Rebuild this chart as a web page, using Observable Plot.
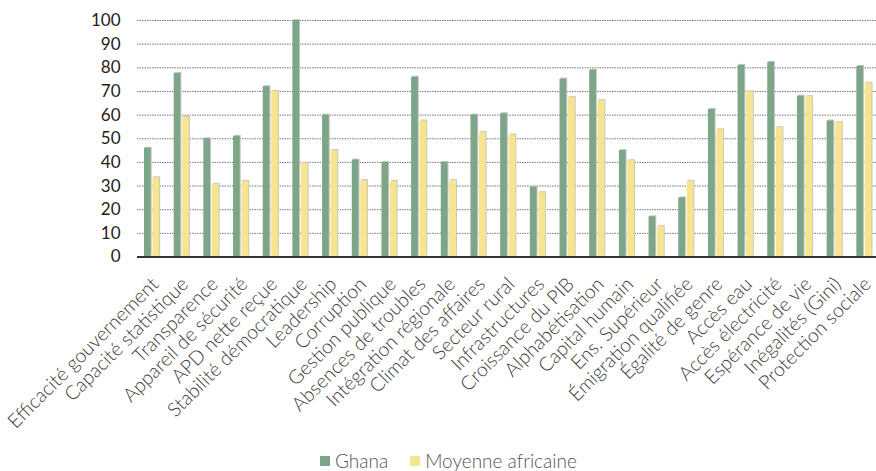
<!DOCTYPE html>
<html><head><meta charset="utf-8">
<script src="https://cdn.jsdelivr.net/npm/d3@7"></script>
<script src="https://cdn.jsdelivr.net/npm/@observablehq/plot@0.6"></script>
<style>
body{margin:0;background:#fff;font-family:Lato,sans-serif;width:876px;height:471px;overflow:hidden;position:relative}
#legend{position:absolute;left:320px;top:449px;display:flex;align-items:center;font-size:19px;font-weight:300;color:#555;font-family:Lato,sans-serif}
#legend .sw{width:10px;height:10px;display:inline-block;margin-right:5px}
#legend .it{display:flex;align-items:center;margin-right:22px}
</style>
</head><body>
<div id="chart"></div>
<div id="legend"></div>
<script>
const categories = ["Efficacité gouvernement","Capacité statistique","Transparence","Appareil de sécurité","APD nette reçue","Stabilité démocratique","Leadership","Corruption","Gestion publique","Absences de troubles","Intégration régionale","Climat des affaires","Secteur rural","Infrastructures","Croissance du PIB","Alphabétisation","Capital humain","Ens. Supérieur","Émigration qualifiée","Égalité de genre","Accès eau","Accès électricité","Espérance de vie","Inégalités (Gini)","Protection sociale"];
const ghana = [46,77.6,50,51,72,100,60,41,40,76,40,60,60.6,29.5,75.2,79,45,17,25,62.4,81,82.3,68,57.5,80.6];
const africa = [33.5,59,30.7,32,70,39.6,45,32.3,32,57.5,32.3,52.6,51.6,27.2,67.5,66.1,40.7,12.8,32,53.8,69.8,54.7,67.8,56.8,73.5];
const seriesNames = ["Ghana","Moyenne africaine"];
const colors = ["#7DA688","#F6E48E"];
const yTicks = [0,10,20,30,40,50,60,70,80,90,100];

const rows = categories.map((c,i)=>({c, g: ghana[i], a: africa[i]}));

const chart = Plot.plot({
  width: 876,
  height: 440,
  marginLeft: 137,
  marginRight: 0,
  marginTop: 20,
  marginBottom: 183.5,
  style: {fontFamily: "Lato, sans-serif", background: "#fff"},
  x: {domain: categories, range: [137, 879], padding: 0, round: false, axis: null},
  y: {domain: [0, 100], range: [256.5, 20], axis: null},
  marks: [
    Plot.ruleY(yTicks.filter(d=>d>0), {stroke: "#777", strokeWidth: 1, strokeDasharray: "1.5,1"}),
    Plot.barY(rows, {x: "c", y: "g", fill: "#c4c4c4", insetLeft: 8, insetRight: 15, dy: -1}),
    Plot.barY(rows, {x: "c", y: "a", fill: "#c9c9c0", insetLeft: 16.5, insetRight: 6.5, dy: -1}),
    Plot.barY(rows, {x: "c", y: "g", fill: colors[0], insetLeft: 7, insetRight: 16}),
    Plot.barY(rows, {x: "c", y: "a", fill: colors[1], insetLeft: 15.5, insetRight: 7.5}),
    Plot.ruleY([0], {stroke: "#333", strokeWidth: 2}),
    Plot.axisY(yTicks, {tickSize: 0, tickPadding: 17, fontSize: 17, fill: "#222", label: null}),
    Plot.text(categories, {x: d=>d, y: 0, text: d=>d, rotate: -45, textAnchor: "end", lineAnchor: "middle", dx: 3, dy: 24, fontSize: 19.5, fontWeight: 300, fill: "#3a3a3a"})
  ]
});
document.getElementById("chart").appendChild(chart);

const leg = document.getElementById("legend");
seriesNames.forEach((n,i)=>{
  const it = document.createElement("span"); it.className="it";
  const sw = document.createElement("span"); sw.className="sw"; sw.style.background = colors[i];
  it.appendChild(sw); it.appendChild(document.createTextNode(n));
  leg.appendChild(it);
});
</script>
</body></html>
